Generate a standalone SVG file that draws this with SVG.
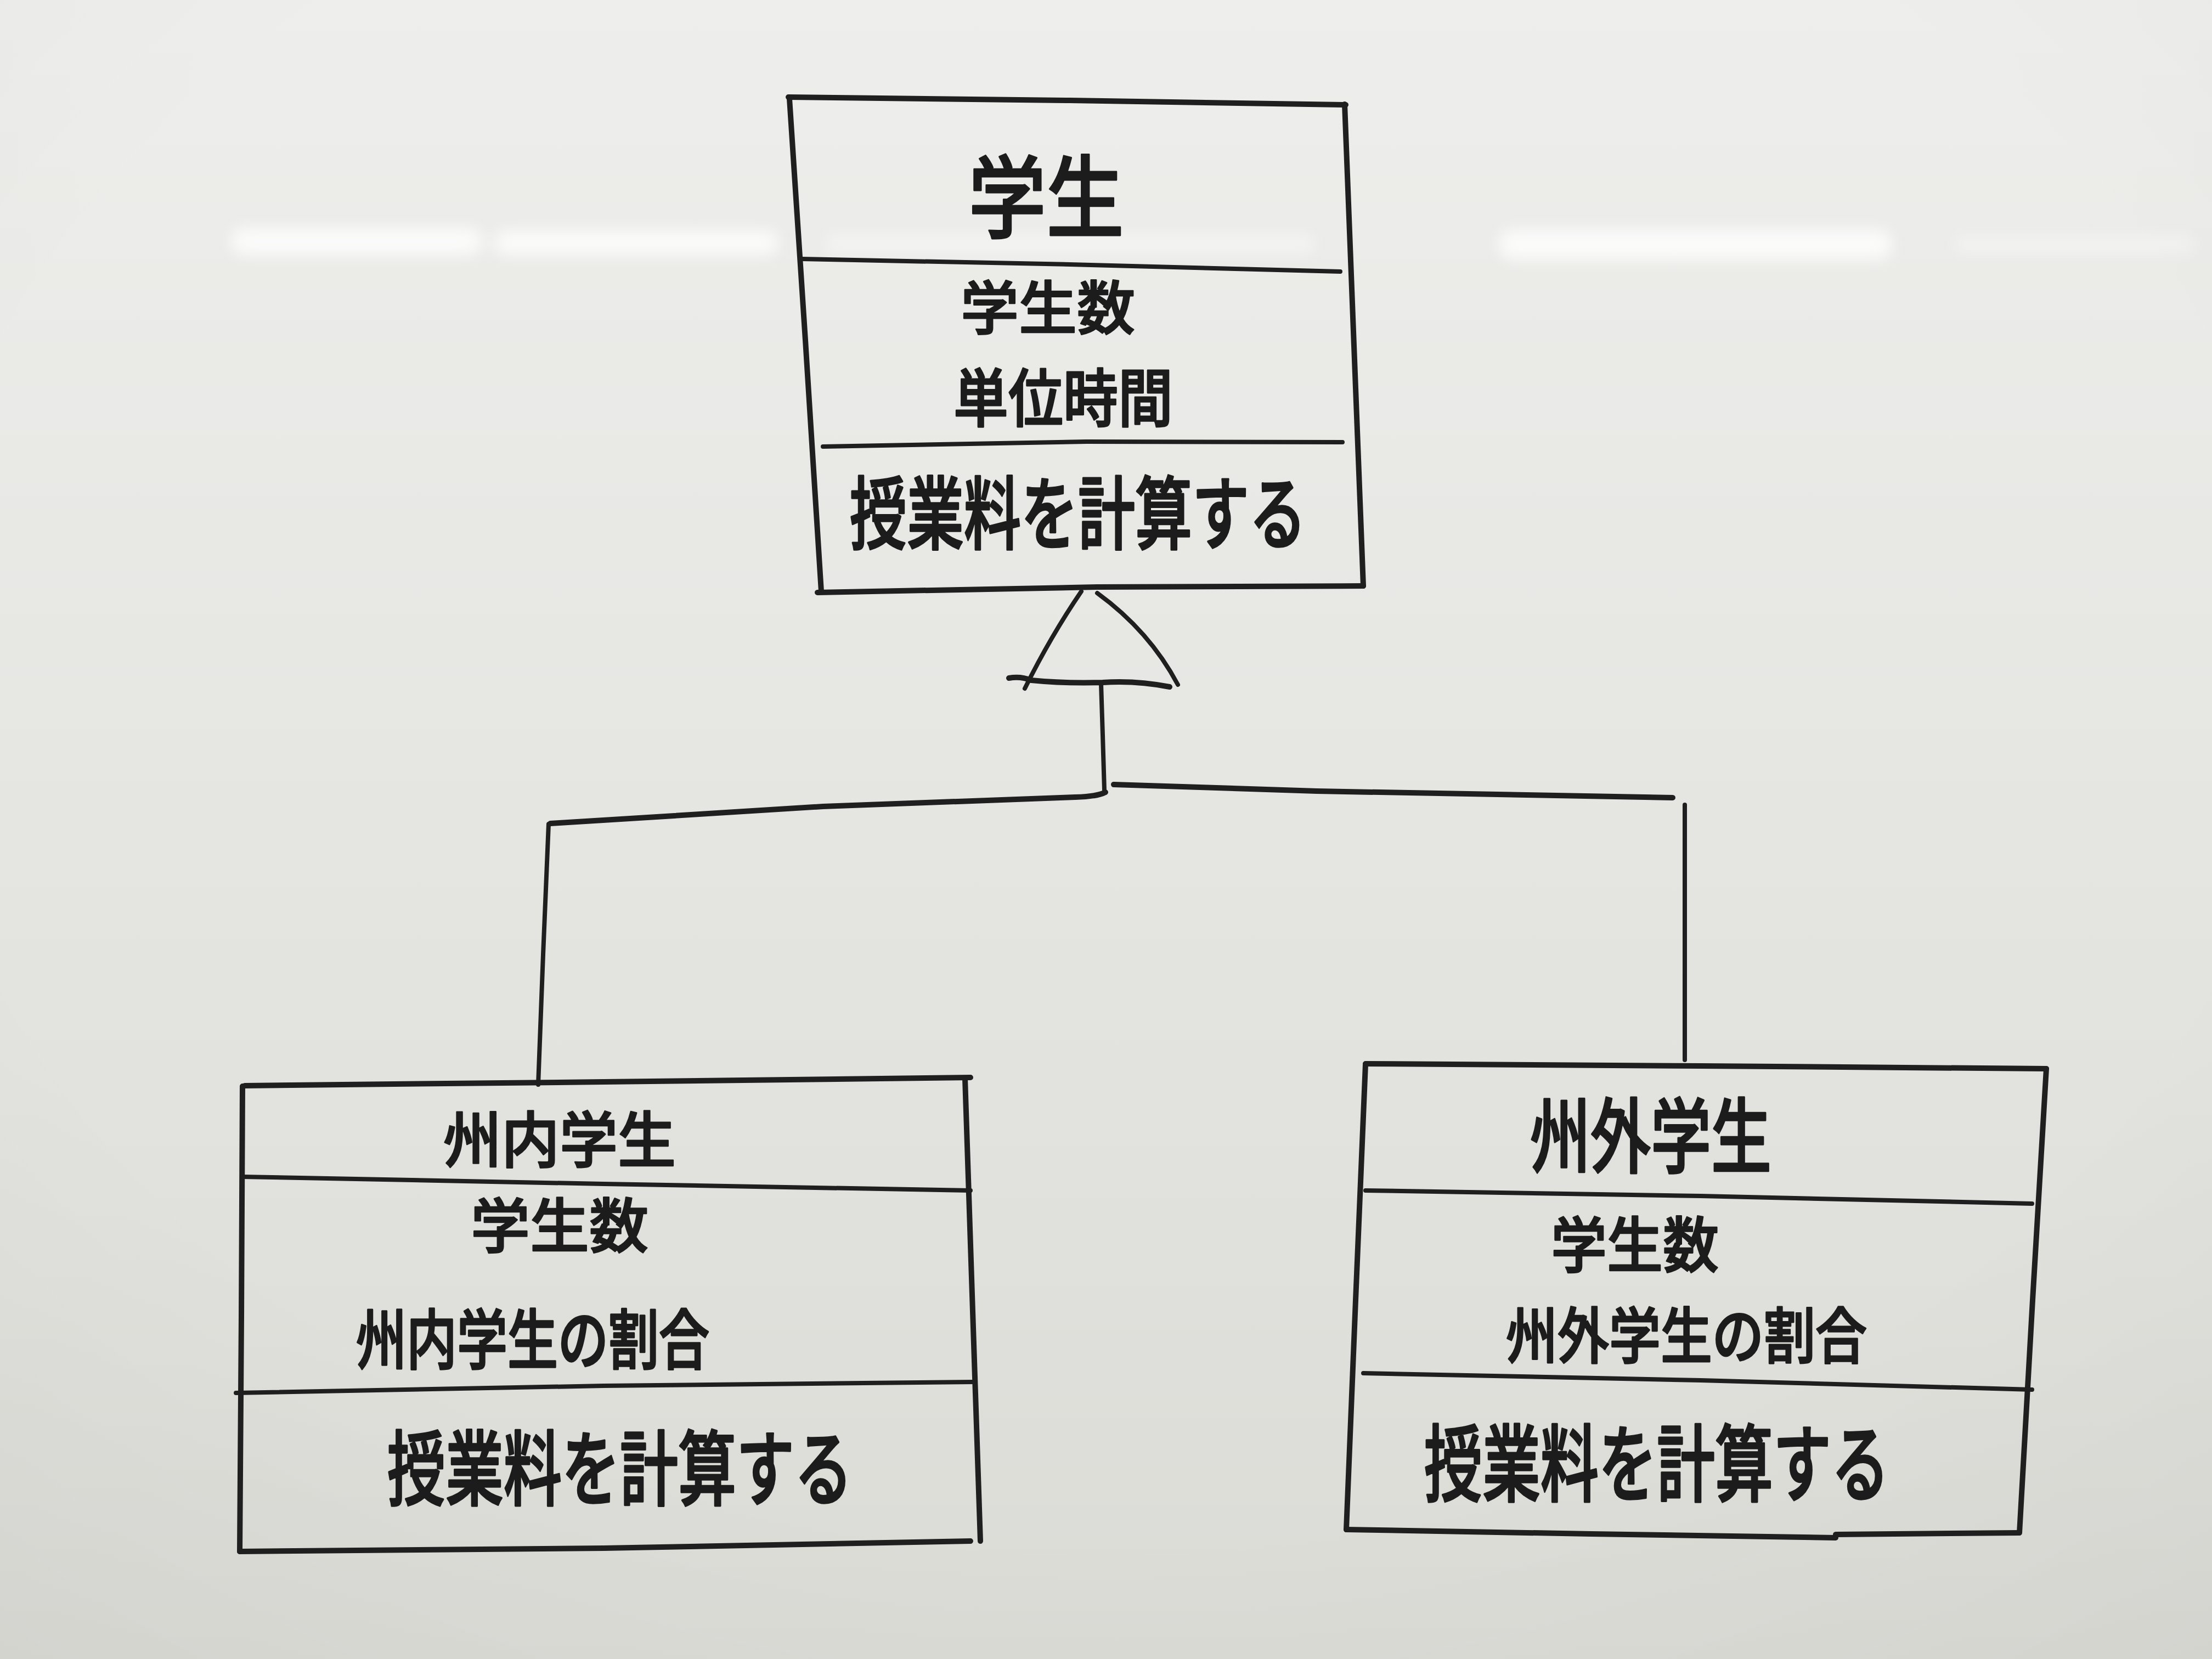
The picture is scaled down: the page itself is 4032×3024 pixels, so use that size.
<svg xmlns="http://www.w3.org/2000/svg" width="4032" height="3024" viewBox="0 0 4032 3024">
  <defs>
    <linearGradient id="board" x1="0" y1="0" x2="0" y2="1">
      <stop offset="0" stop-color="#eeeeec"/>
      <stop offset="0.45" stop-color="#e6e6e3"/>
      <stop offset="1" stop-color="#dbdbd6"/>
    </linearGradient>
    <radialGradient id="vignette" cx="0.5" cy="0.4" r="0.8">
      <stop offset="0.65" stop-color="#000" stop-opacity="0"/>
      <stop offset="1" stop-color="#000" stop-opacity="0.035"/>
    </radialGradient>
    <filter id="glow" x="-20%" y="-200%" width="140%" height="500%">
      <feGaussianBlur stdDeviation="14"/>
    </filter>
    <style>
      .ink { fill: none; stroke: #1f1f1f; stroke-width: 10; stroke-linecap: round; stroke-linejoin: round; }
      .thin { stroke-width: 8; }
      .lbl { font-family: "Noto Sans CJK JP", "Noto Sans CJK SC", sans-serif; font-weight: 500; fill: #1c1c1c; stroke: #1c1c1c; stroke-width: 2.5; stroke-linejoin: round; text-anchor: middle; }
    </style>
  </defs>

  <!-- whiteboard surface -->
  <rect width="4032" height="3024" fill="url(#board)"/>
  <rect width="4032" height="3024" fill="url(#vignette)"/>
  <!-- ceiling light reflections -->
  <g fill="#ffffff" filter="url(#glow)" opacity="0.8">
    <rect x="420" y="415" width="460" height="50" rx="25"/>
    <rect x="900" y="420" width="520" height="45" rx="22"/>
    <rect x="1500" y="425" width="900" height="40" rx="20" opacity="0.5"/>
    <rect x="2730" y="418" width="720" height="55" rx="27"/>
    <rect x="3560" y="428" width="440" height="35" rx="17" opacity="0.45"/>
  </g>

  <!-- parent class -->
  <g id="student">
    <path class="ink" d="M1437,177 L1950,183 L2453,191"/>
    <path class="ink" d="M1439,180 L1468,620 L1497,1078"/>
    <path class="ink" d="M2451,190 L2468,630 L2485,1068"/>
    <path class="ink" d="M1490,1080 L2000,1070 L2485,1068"/>
    <path class="ink thin" d="M1462,472 L1950,482 L2443,495"/>
    <path class="ink thin" d="M1500,814 L1980,805 L2447,806"/>
    <text class="lbl" transform="translate(1907,420) scale(1,1.15)" font-size="142">学生</text>
    <text class="lbl" transform="translate(1910,600)" font-size="106">学生数</text>
    <text class="lbl" transform="translate(1938,768) scale(1,1.15)" font-size="100">単位時間</text>
    <text class="lbl" transform="translate(1965,990) scale(1,1.4)" font-size="104">授業料を計算する</text>
  </g>

  <!-- in-state student -->
  <g id="in-state-student">
    <path class="ink" d="M446,1979 L1100,1972 L1769,1964"/>
    <path class="ink" d="M442,1980 L440,2400 L437,2828"/>
    <path class="ink" d="M1759,1966 L1773,2390 L1787,2809"/>
    <path class="ink" d="M437,2828 L1100,2822 L1769,2809"/>
    <path class="ink thin" d="M442,2145 L1100,2158 L1769,2170"/>
    <path class="ink thin" d="M430,2539 L1100,2526 L1773,2519"/>
    <text class="lbl" transform="translate(1020,2119) scale(1,1.05)" font-size="106">州内学生</text>
    <text class="lbl" transform="translate(1020,2274)" font-size="108">学生数</text>
    <text class="lbl" transform="translate(971,2486) scale(1,1.3)" font-size="92">州内学生の割合</text>
    <text class="lbl" transform="translate(1130,2732) scale(1,1.4)" font-size="106">授業料を計算する</text>
  </g>

  <!-- out-of-state student -->
  <g id="out-of-state-student">
    <path class="ink" d="M2489,1939 L3100,1943 L3730,1948"/>
    <path class="ink" d="M2489,1940 L2471,2370 L2454,2788"/>
    <path class="ink" d="M3730,1948 L3705,2370 L3681,2794"/>
    <path class="ink" d="M2454,2788 L2900,2796 L3346,2803"/>
    <path class="ink" d="M3346,2797 L3680,2794"/>
    <path class="ink thin" d="M2489,2170 L3100,2180 L3704,2194"/>
    <path class="ink thin" d="M2485,2503 L3100,2516 L3704,2533"/>
    <text class="lbl" transform="translate(3009,2126) scale(1,1.35)" font-size="110">州外学生</text>
    <text class="lbl" transform="translate(2980,2310) scale(1,1.08)" font-size="102">学生数</text>
    <text class="lbl" transform="translate(3074,2476) scale(1,1.18)" font-size="94">州外学生の割合</text>
    <text class="lbl" transform="translate(3020,2725) scale(1,1.45)" font-size="106">授業料を計算する</text>
  </g>

  <!-- generalization connectors -->
  <g id="connectors">
    <!-- hollow triangle head -->
    <path class="ink thin" d="M1971,1078 Q1915,1160 1868,1255"/>
    <path class="ink thin" d="M2000,1081 Q2095,1150 2147,1248"/>
    <path class="ink" d="M1839,1236 Q1860,1232 1880,1240 Q1940,1246 2010,1244 Q2070,1240 2132,1252"/>
    <!-- stem -->
    <path class="ink thin" d="M2007,1246 L2010,1340 L2013,1440"/>
    <!-- branches -->
    <path class="ink" d="M2015,1444 Q2000,1452 1960,1453 L1500,1470 Q1250,1485 1003,1501"/>
    <path class="ink" d="M2030,1430 L2400,1442 L3049,1454"/>
    <path class="ink thin" d="M1000,1502 L990,1740 L981,1977"/>
    <path class="ink thin" d="M3071,1467 L3071,1700 L3071,1932"/>
  </g>
</svg>
